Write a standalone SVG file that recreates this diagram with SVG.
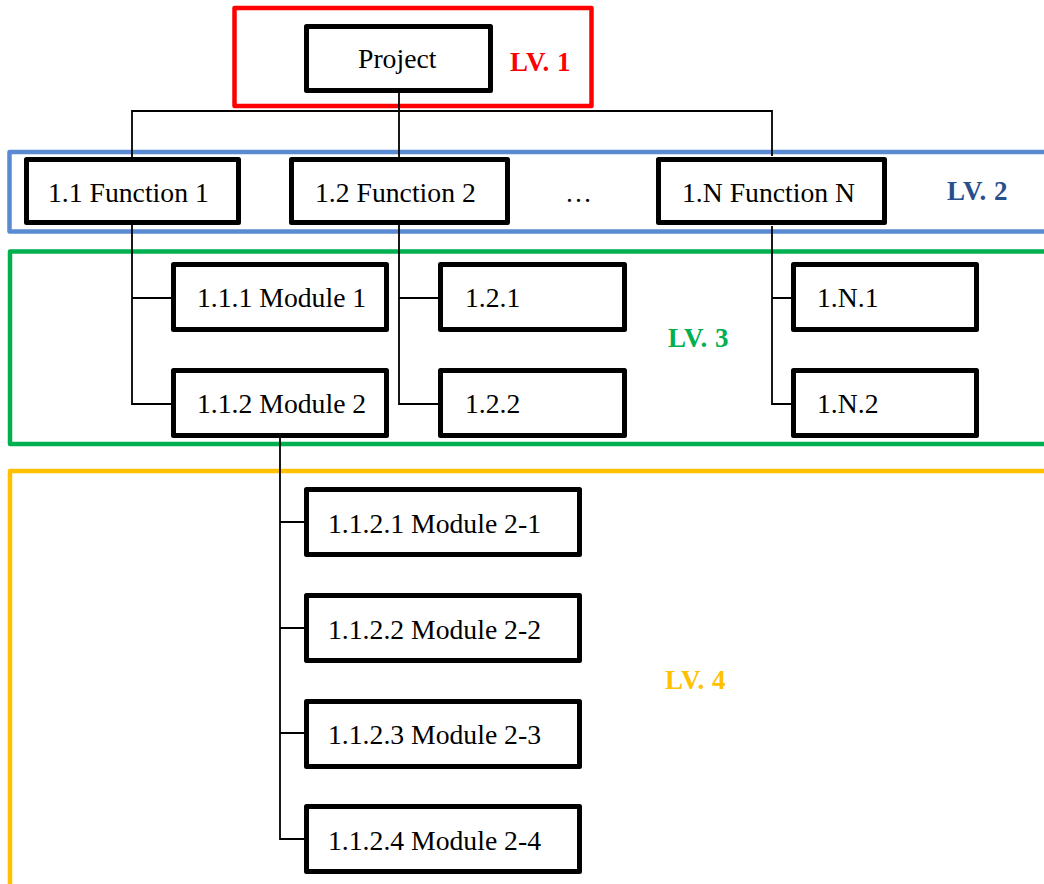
<svg xmlns="http://www.w3.org/2000/svg" width="1044" height="884" viewBox="0 0 1044 884">
<style>
.frame{fill:none;stroke-width:4.5;stroke-linejoin:round}
.node rect{fill:#fff;stroke:#000;stroke-width:5;stroke-linejoin:round}
.node text{font-family:"Liberation Serif","Times New Roman",serif;font-size:27.7px;fill:#000}
.lv{font-family:"Liberation Serif","Times New Roman",serif;font-size:27px;font-weight:bold;letter-spacing:0.5px}
.conn path{fill:none;stroke:#000;stroke-width:1.8}
</style>
<rect width="1044" height="884" fill="#fff"/>
<g id="frames">
<rect class="frame" x="234.5" y="8" width="357" height="98" stroke="#FF0000"/>
<rect class="frame" x="9.5" y="152" width="1060" height="79.5" stroke="#5A8BD2"/>
<rect class="frame" x="10" y="251.5" width="1060" height="192.5" stroke="#00B050"/>
<rect class="frame" x="10" y="471" width="1060" height="500" stroke="#FFC000"/>
</g>
<g class="conn" id="connectors">
<path d="M399,93 V157 M132,157 V111 H772 V156"/>
<path d="M132,225 V404 H171 M132,298 H171"/>
<path d="M399,223 V404 H438 M399,298 H438"/>
<path d="M772,226 V404 H791 M772,298 H791"/>
<path d="M280,438 V839 H304 M280,522 H304 M280,628 H304 M280,733 H304"/>
</g>
<g class="node" id="n-project"><rect x="306.5" y="26.5" width="184" height="64"/><text x="358" y="68">Project</text></g>
<g class="node" id="n-1-1"><rect x="26.5" y="159.5" width="212" height="63"/><text x="48" y="202">1.1 Function 1</text></g>
<g class="node" id="n-1-2"><rect x="291.5" y="159.5" width="216" height="63"/><text x="315" y="202">1.2 Function 2</text></g>
<g id="n-ellipsis"><text x="565" y="202" style="font-family:'Liberation Serif','Times New Roman',serif;font-size:27px">…</text></g>
<g class="node" id="n-1-N"><rect x="658.5" y="159.5" width="226" height="63"/><text x="682" y="202">1.N Function N</text></g>
<g class="node" id="n-1-1-1"><rect x="173.5" y="264.5" width="213" height="65"/><text x="197" y="307">1.1.1 Module 1</text></g>
<g class="node" id="n-1-1-2"><rect x="173.5" y="370.5" width="213" height="65"/><text x="197" y="413">1.1.2 Module 2</text></g>
<g class="node" id="n-1-2-1"><rect x="440.5" y="264.5" width="184" height="65"/><text x="465" y="307">1.2.1</text></g>
<g class="node" id="n-1-2-2"><rect x="440.5" y="370.5" width="184" height="65"/><text x="465" y="413">1.2.2</text></g>
<g class="node" id="n-1-N-1"><rect x="793.5" y="264.5" width="183" height="65"/><text x="817" y="307">1.N.1</text></g>
<g class="node" id="n-1-N-2"><rect x="793.5" y="370.5" width="183" height="65"/><text x="817" y="413">1.N.2</text></g>
<g class="node" id="n-1-1-2-1"><rect x="306.5" y="489.5" width="273" height="65"/><text x="328" y="533">1.1.2.1 Module 2-1</text></g>
<g class="node" id="n-1-1-2-2"><rect x="306.5" y="595.5" width="273" height="65"/><text x="328" y="639">1.1.2.2 Module 2-2</text></g>
<g class="node" id="n-1-1-2-3"><rect x="306.5" y="701.5" width="273" height="65"/><text x="328" y="744">1.1.2.3 Module 2-3</text></g>
<g class="node" id="n-1-1-2-4"><rect x="306.5" y="806.5" width="273" height="65"/><text x="328" y="850">1.1.2.4 Module 2-4</text></g>
<g id="labels">
<text class="lv" x="510" y="71" fill="#FF0000">LV. 1</text>
<text class="lv" x="947" y="200" fill="#264F8C">LV. 2</text>
<text class="lv" x="668" y="347" fill="#00B050">LV. 3</text>
<text class="lv" x="665" y="689" fill="#FFC000">LV. 4</text>
</g>
</svg>
